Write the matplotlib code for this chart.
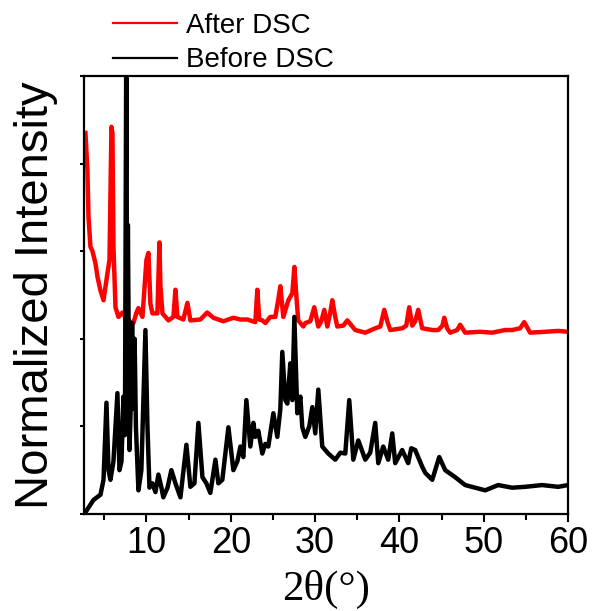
import numpy as np
import matplotlib
matplotlib.use("Agg")
import matplotlib.pyplot as plt
from matplotlib.lines import Line2D

# Before DSC (black)
before_x = [2.77, 3.72, 4.55, 4.91, 5.26, 5.5, 5.73, 6.09, 6.56, 6.8, 7.04, 7.27, 7.45,
            7.63, 7.7, 7.8, 7.99, 8.22, 8.3, 8.45, 8.6, 8.75, 9.05, 9.4, 9.88, 10.12,
            10.36, 10.71, 11.07, 11.42, 11.78, 12.0, 12.5, 12.96, 13.44, 14.03, 14.74,
            15.21, 15.69, 16.16, 16.64, 17.11, 17.58, 18.18, 18.53, 19.0, 19.72, 20.31,
            20.78, 21.14, 21.49, 21.85, 22.32, 22.68, 22.91, 23.27, 23.74, 24.1, 24.45,
            25.05, 25.52, 25.88, 26.11, 26.47, 26.71, 27.06, 27.3, 27.54, 27.89, 28.25,
            28.48, 28.84, 29.31, 29.67, 30.02, 30.38, 30.85, 31.56, 32.39, 32.99, 33.58,
            34.05, 34.53, 35.12, 35.95, 36.54, 37.13, 37.49, 38.08, 38.67, 39.15, 39.5,
            40.33, 41.04, 41.4, 41.87, 42.7, 43.06, 43.89, 44.72, 45.43, 46.61, 47.8,
            48.98, 50.17, 51.71, 53.36, 54.91, 56.92, 58.82, 60.0]
before_y = [0.02, 0.16, 0.22, 0.39, 1.27, 0.5, 0.39, 0.6, 1.38, 0.5, 0.6, 1.34, 0.9,
            6.0, 1.2, 3.3, 0.73, 1.5, 2.18, 1.2, 2.0, 1.0, 0.27, 0.5, 2.1, 1.0,
            0.3, 0.35, 0.25, 0.45, 0.3, 0.19, 0.3, 0.5, 0.35, 0.19, 0.79,
            0.31, 0.35, 1.04, 0.42, 0.35, 0.24, 0.62, 0.35, 0.39, 0.99, 0.5,
            0.6, 0.77, 0.65, 1.3, 0.77, 1.04, 0.88, 0.95, 0.69, 0.8, 0.77,
            1.15, 0.88, 1.2, 1.85, 1.3, 1.26, 1.72, 1.3, 2.25, 1.15, 1.34,
            0.99, 0.88, 1.0, 1.22, 0.92, 1.42, 0.77, 0.69, 0.62, 0.7, 0.69,
            1.3, 0.62, 0.84, 0.62, 0.7, 1.04, 0.58, 0.77, 0.62, 0.92, 0.58,
            0.73, 0.58, 0.75, 0.73, 0.54, 0.47, 0.39, 0.65, 0.5, 0.42, 0.33,
            0.3, 0.27, 0.33, 0.3, 0.31, 0.33, 0.31, 0.33]

# After DSC (red)
after_x = [2.77, 3.0, 3.13, 3.36, 3.6, 3.96, 4.19, 4.55, 4.91, 5.38, 5.62, 5.85, 5.97,
           6.09, 6.33, 6.68, 7.16, 7.75, 8.46, 8.82, 9.05, 9.53, 10.0, 10.24, 10.47,
           10.71, 11.3, 11.54, 11.66, 11.9, 12.61, 13.2, 13.44, 13.67, 14.38, 14.86,
           15.21, 16.4, 17.2, 17.94, 19.12, 20.31, 21.14, 21.97, 22.91, 23.15, 23.38, 23.74,
           24.1, 24.69, 25.28, 25.64, 25.88, 26.23, 26.83, 27.3, 27.54, 27.77, 28.0,
           28.6, 28.84, 29.43, 29.9, 30.38, 30.73, 31.09, 31.45, 31.8, 32.04, 32.39,
           32.63, 33.34, 33.82, 34.76, 35.95, 37.13, 37.73, 38.2, 38.56, 38.91, 40.33,
           40.81, 41.16, 41.52, 41.87, 42.23, 42.7, 43.89, 44.6, 45.1, 45.31, 45.66,
           46.02, 46.85, 47.2, 47.8, 49.57, 50.99, 52.53, 53.36, 54.31, 54.79, 55.5,
           57.27, 58.82, 60.0]
after_y = [4.35, 3.93, 3.39, 3.05, 3.0, 2.86, 2.71, 2.55, 2.44, 2.75, 2.9, 4.42, 4.35,
           3.05, 2.36, 2.25, 2.3, 2.21, 2.18, 2.3, 2.35, 2.25, 2.9, 2.98, 2.4,
           2.29, 2.29, 3.1, 2.6, 2.29, 2.21, 2.25, 2.56, 2.25, 2.22, 2.41,
           2.21, 2.22, 2.3, 2.24, 2.2, 2.24, 2.22, 2.22, 2.19, 2.56, 2.22, 2.21,
           2.18, 2.25, 2.25, 2.45, 2.6, 2.25, 2.44, 2.52, 2.82, 2.5, 2.21,
           2.14, 2.18, 2.2, 2.36, 2.14, 2.2, 2.33, 2.14, 2.3, 2.44, 2.25,
           2.14, 2.15, 2.21, 2.1, 2.07, 2.12, 2.14, 2.33, 2.2, 2.1, 2.12,
           2.15, 2.36, 2.15, 2.2, 2.33, 2.12, 2.1, 2.1, 2.15, 2.24, 2.12,
           2.07, 2.1, 2.16, 2.07, 2.08, 2.07, 2.1, 2.1, 2.12, 2.19, 2.07,
           2.08, 2.09, 2.08]

x_ticks = [10, 20, 30, 40, 50, 60]

plt.rcParams['font.family'] = ['Liberation Sans', 'DejaVu Sans']

fig = plt.figure(figsize=(5.93, 6.11), dpi=100)
ax = fig.add_axes([0.1417, 0.1588, 0.8163, 0.7168])

ax.plot(after_x, after_y, color='#ff0000', lw=3.2)
ax.plot(before_x, before_y, color='black', lw=3.2)

ax.set_xlim(2.6, 60)
ax.set_ylim(0, 5)
ax.set_xticks(x_ticks)
ax.set_xticks(np.arange(5, 60, 10), minor=True)
ax.set_yticks(range(6))
ax.set_yticklabels([])
ax.tick_params(axis='x', which='major', length=6, width=1.5, labelsize=26, pad=3)
ax.tick_params(axis='x', which='minor', length=4, width=1.5)
ax.tick_params(axis='y', length=3, width=1.5)
for s in ax.spines.values():
    s.set_linewidth(1.6)

ax.set_ylabel('Normalized Intensity', fontsize=34, labelpad=12)
ax.set_xlabel('2θ(°)', fontsize=31, family=['Liberation Serif', 'DejaVu Serif'], labelpad=6)

# legend handles are drawn thinner than the data lines
handles = [Line2D([], [], color='#ff0000', lw=1.6, label='After DSC'),
           Line2D([], [], color='black', lw=1.6, label='Before DSC')]
fig.legend(handles=handles, loc='upper left',
           bbox_to_anchor=(0.163, 1.006), frameon=False, fontsize=20,
           handlelength=2.3, handletextpad=0.3, labelspacing=0.3, borderpad=0.1)

fig.savefig('out.png', dpi=100)
